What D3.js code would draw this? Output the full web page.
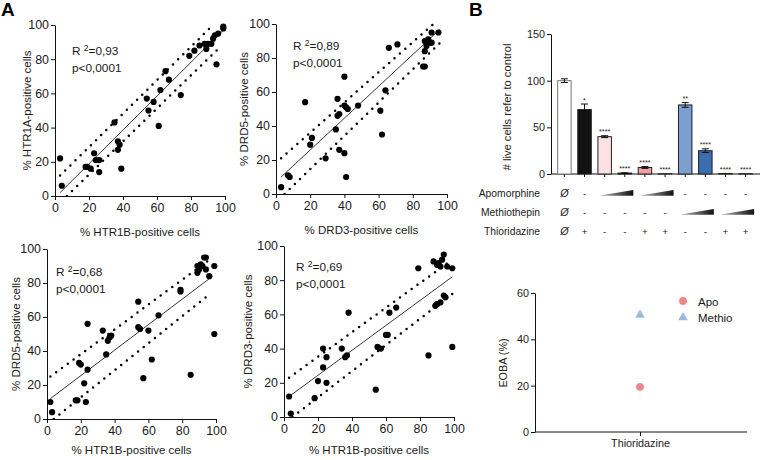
<!DOCTYPE html>
<html><head><meta charset="utf-8">
<script src="https://cdn.jsdelivr.net/npm/d3@7"></script>
<style>
body{margin:0;background:#fff}
svg{display:block;font-family:Arial,"Liberation Sans",Helvetica,sans-serif}
</style></head><body>
<svg id="c" width="760" height="460"></svg>
<script>
// ---------- DATA ----------
const axisTicks = [0, 20, 40, 60, 80, 100];

const htr1b_htr1a = [[3,22],[4,6],[18,17],[19,17],[21,16],[23,25],[24,21],[26,21],[26,14],[35,43],[37,32],[38,30],[37,27],[39,16],
  [54,57],[55,50],[58,55],[61,41],[62,62],[65,73],[67,68],[74,59],[79,82],[82,85],[85,88],[88,89],[90,89],[92,89],[89,86],
  [93,92],[94,94],[95,77],[96,95],[99,99],[99,98]];
const drd3_drd5 = [[3,4],[7,11],[8,10],[17,54],[20,29],[21,33],[29,21],[35,38],[36,56],[36,46],[37,47],[37,26],[40,24],[41,10],
  [40,69],[40,52],[41,51],[42,50],[48,52],[61,49],[62,35],[64,61],[66,86],[71,88],[86,75],[87,75],[87,84],[87,90],[88,87],
  [89,91],[90,89],[91,89],[91,95],[95,95]];
const htr1b_drd5 = [[2,10],[3,4],[17,11],[18,11],[19,33],[20,32],[22,21],[23,10],[24,56],[24,29],[33,52],[35,38],[36,46],[37,48],
  [38,49],[54,69],[54,54],[55,53],[57,24],[60,52],[62,35],[66,61],[79,76],[79,75],[85,26],[89,90],[89,86],[90,88],[91,91],
  [92,90],[93,95],[94,95],[94,88],[96,84],[99,90],[99,50]];
const htr1b_drd3 = [[3,12],[4,2],[18,11],[20,21],[23,29],[23,40],[25,35],[25,20],[34,40],[36,35],[37,36],[38,61],[54,16],[55,41],
  [57,40],[60,48],[61,48],[62,61],[66,64],[79,87],[85,36],[88,91],[90,89],[91,90],[92,88],[93,92],[94,95],[96,88],[99,87],
  [89,65],[90,66],[92,67],[94,71],[95,70],[99,41]];

// regression fits and 95% bands as [x,y] end points
const fit1 = [[3,2],[100,98]],  upper1 = [[3,12],[93,100]], lower1 = [[7,0],[98,88]];
const fit2 = [[3,10],[96,97]],  upper2 = [[3,21],[92,100]], lower2 = [[5,0],[98,91]];
const fit3 = [[2,12],[98,84]],  upper3 = [[2,25],[98,95]],  lower3 = [[4,0],[97,74]];
const fit4 = [[3,12],[99,82]],  upper4 = [[3,23],[99,92]],  lower4 = [[5,0],[99,72]];

const stats = [["0,93","p<0,0001"],["0,89","p<0,0001"],["0,68","p<0,0001"],["0,69","p<0,0001"]];

// Bar panel
const barIds    = ["ctrl","thio","apoLo","apoHi","apoLoThio","apoHiThio","metLo","metHi","metLoThio","metHiThio"];
const barValues = [100, 69, 40, 1, 7, 0.3, 74, 25, 0.6, 0.3];
const barErrors = [2, 6, 1, 0.3, 1, 0, 2.5, 2, 0, 0];
const barColors = ["#ffffff","#111111","#fde1e5","#e8818c","#f2a0a8","#f2a0a8","#7c9fd0","#3b6db0","#3b6db0","#3b6db0"];
const barStars  = ["","*","****","****","****","****","**","****","****","****"];
const barTicks  = [0, 50, 100, 150];
const rowApo    = ["Ø","-",null,null,null,null,"-","-","-","-"];
const rowMet    = ["Ø","-","-","-","-","-",null,null,null,null];
const rowThio   = ["Ø","+","-","-","+","+","-","-","+","+"];
const apoWedges = [[2,3],[4,5]];
const metWedges = [[6,7],[8,9]];

// EOBA panel
const eobaCats   = ["Thioridazine"];
const eobaSeries = ["Apo","Methio"];
const eobaValues = [19.5, 50.5];
const eobaColors = ["#f0868c","#9cb8e2"];
const eobaTicks  = [0, 20, 40, 60];

// ---------- DRAW ----------
const svg = d3.select("#c");
const FONT = 'Arial,"Liberation Sans",Helvetica,sans-serif';
const txt = "#1a1a1a";

function styleAxis(g, fs){
  g.attr("font-family", FONT).attr("font-size", fs);
  g.selectAll("path,line").attr("stroke", "#111").attr("stroke-width", 1);
  g.selectAll("text").attr("fill", txt);
}

const defs = svg.append("defs");

function scatter(id, pts, fit, up, lo, st, f){
  const x = d3.scaleLinear().domain([0,100]).range([f.x0, f.x1]);
  const y = d3.scaleLinear().domain([0,100]).range([f.y0, f.y1]);
  const g = svg.append("g");
  defs.append("clipPath").attr("id","clip"+id).append("rect")
    .attr("x", f.x0).attr("y", f.y1 - 3).attr("width", f.x1 - f.x0 + 3).attr("height", f.y0 - f.y1 + 3);

  const gx = g.append("g").attr("transform",`translate(0,${f.y0})`)
    .call(d3.axisBottom(x).tickValues(axisTicks).tickSize(4).tickSizeOuter(0).tickPadding(3));
  styleAxis(gx, 12.4);
  const gy = g.append("g").attr("transform",`translate(${f.x0},0)`)
    .call(d3.axisLeft(y).tickValues(axisTicks).tickSize(4).tickSizeOuter(0).tickPadding(2));
  styleAxis(gy, 12.4);

  const line = d3.line().x(d => x(d[0])).y(d => y(d[1]));
  const cg = g.append("g").attr("clip-path", `url(#clip${id})`);
  cg.append("path").attr("d", line(fit)).attr("stroke","#222").attr("stroke-width",0.9).attr("fill","none");
  [up, lo].forEach(b => cg.append("path").attr("d", line(b)).attr("fill","none")
    .attr("stroke","#000").attr("stroke-width",2.5).attr("stroke-linecap","round").attr("stroke-dasharray","0,7.2"));

  g.append("g").selectAll("circle").data(pts).join("circle")
    .attr("cx", d => x(d[0])).attr("cy", d => y(d[1])).attr("r", 3.1).attr("fill","#000");

  const t = g.append("text").attr("x", f.x0 + f.rx).attr("y", f.y1 + f.ry)
    .attr("font-size", 11.8).attr("fill", txt);
  t.append("tspan").text("R ");
  t.append("tspan").attr("dy", -4.5).attr("font-size", 8.5).text("2");
  t.append("tspan").attr("dy", 4.5).text("=" + st[0]);
  g.append("text").attr("x", f.x0 + f.rx).attr("y", f.y1 + f.ry + 17)
    .attr("font-size", 11.8).attr("fill", txt).text(st[1]);

  g.append("text").attr("x", (f.x0 + f.x1) / 2).attr("y", f.xt).attr("text-anchor","middle")
    .attr("font-size", 11.5).attr("fill", txt).text(f.xl);
  g.append("text").attr("transform", `translate(${f.yt},${(f.y0 + f.y1) / 2}) rotate(-90)`)
    .attr("text-anchor","middle").attr("font-size", 11.5).attr("fill", txt).text(f.yl);
}

scatter(1, htr1b_htr1a, fit1, upper1, lower1, stats[0],
  {x0:55, x1:225, y0:196, y1:25, rx:17, ry:30, xt:236, yt:31, xl:"% HTR1B-positive cells", yl:"% HTR1A-positive cells"});
scatter(2, drd3_drd5, fit2, upper2, lower2, stats[1],
  {x0:276, x1:447, y0:194, y1:24, rx:17, ry:26, xt:234, yt:248, xl:"% DRD3-positive cells", yl:"% DRD5-positive cells"});
scatter(3, htr1b_drd5, fit3, upper3, lower3, stats[2],
  {x0:47, x1:216, y0:419, y1:249, rx:9, ry:27, xt:454, yt:20, xl:"% HTR1B-positive cells", yl:"% DRD5-positive cells"});
scatter(4, htr1b_drd3, fit4, upper4, lower4, stats[3],
  {x0:284, x1:454, y0:417, y1:246, rx:12, ry:25, xt:454, yt:252, xl:"% HTR1B-positive cells", yl:"% DRD3-positive cells"});

// panel letters
svg.append("text").attr("x",1).attr("y",16).attr("font-size",19).attr("font-weight","bold").attr("fill","#000").text("A");
svg.append("text").attr("x",469).attr("y",16).attr("font-size",19).attr("font-weight","bold").attr("fill","#000").text("B");

// ---- Bar panel ----
{
  const bx = d3.scaleBand().domain(barIds).range([551, 759]).padding(0.33);
  const by = d3.scaleLinear().domain([0,150]).range([174, 34]);
  const g = svg.append("g");
  const gy = g.append("g").attr("transform","translate(551,0)")
    .call(d3.axisLeft(by).tickValues(barTicks).tickSize(4).tickSizeOuter(0).tickPadding(2));
  styleAxis(gy, 10.8);
  const gx = g.append("g").attr("transform","translate(0,174)")
    .call(d3.axisBottom(bx).tickFormat("").tickSize(3).tickSizeOuter(0));
  styleAxis(gx, 10);
  gx.select(".domain").attr("d","M551,0H760");

  const bars = barIds.map((id,i) => ({id, v:barValues[i], e:barErrors[i], c:barColors[i], s:barStars[i]}));
  g.selectAll("rect.bar").data(bars).join("rect").attr("class","bar")
    .attr("x", d => bx(d.id)).attr("width", bx.bandwidth())
    .attr("y", d => by(d.v)).attr("height", d => by(0) - by(d.v))
    .attr("fill", d => d.c).attr("stroke", (d,i) => i === 0 ? "#777" : "#222").attr("stroke-width",1);
  const eb = bars.filter(d => d.e > 0);
  const cx = d => bx(d.id) + bx.bandwidth()/2;
  g.selectAll("path.err").data(eb).join("path").attr("class","err")
    .attr("d", d => `M${cx(d)},${by(d.v+d.e)}V${by(d.v-d.e)}M${cx(d)-3.5},${by(d.v+d.e)}H${cx(d)+3.5}M${cx(d)-3.5},${by(d.v-d.e)}H${cx(d)+3.5}`)
    .attr("stroke","#111").attr("stroke-width",1).attr("fill","none");
  g.selectAll("text.star").data(bars).join("text").attr("class","star")
    .attr("x", cx).attr("y", d => by(d.v + d.e) - 1.5).attr("text-anchor","middle")
    .attr("font-size", 7.2).attr("fill", txt).text(d => d.s);

  g.append("text").attr("transform","translate(511,107) rotate(-90)").attr("text-anchor","middle")
    .attr("font-size",11.2).attr("fill",txt).text("# live cells refer to control");

  // treatment table
  const grad = defs.append("linearGradient").attr("id","wedge");
  grad.append("stop").attr("offset","0%").attr("stop-color","#bdbdbd");
  grad.append("stop").attr("offset","100%").attr("stop-color","#111");
  const rows = [["Apomorphine", rowApo, apoWedges, 193], ["Methiothepin", rowMet, metWedges, 212], ["Thioridazine", rowThio, [], 231]];
  rows.forEach(([name, row, wedges, yy]) => {
    g.append("text").attr("x",540).attr("y",yy+3.5).attr("text-anchor","end").attr("font-size",10.3).attr("fill",txt).text(name);
    row.forEach((s,i) => {
      if (s === null) return;
      g.append("text").attr("x", bx(barIds[i]) + bx.bandwidth()/2).attr("y", yy + 3.8).attr("text-anchor","middle")
        .attr("font-size", s === "Ø" ? 10.8 : 9.8).attr("font-style", s === "Ø" ? "italic" : null)
        .attr("fill",txt).text(s);
    });
    wedges.forEach(([a,b]) => {
      const xa = bx(barIds[a]) + bx.bandwidth()/2 - 6, xb = bx(barIds[b]) + bx.bandwidth()/2 + 8.5;
      g.append("path").attr("d", `M${xa},${yy+2.8}L${xb},${yy-3}L${xb},${yy+2.8}Z`).attr("fill","url(#wedge)");
    });
  });
}

// ---- EOBA panel ----
{
  const ex = d3.scalePoint().domain(eobaCats).range([535, 745]).padding(0.5);
  const ey = d3.scaleLinear().domain([0,60]).range([432, 293]);
  const g = svg.append("g");
  const gy = g.append("g").attr("transform","translate(535,0)")
    .call(d3.axisLeft(ey).tickValues(eobaTicks).tickSize(4).tickSizeOuter(0).tickPadding(2));
  styleAxis(gy, 10.8);
  const gx = g.append("g").attr("transform","translate(0,432)")
    .call(d3.axisBottom(ex).tickSize(4).tickSizeOuter(0).tickPadding(3));
  styleAxis(gx, 10.8);
  gx.select(".domain").attr("d","M535,0H747");

  const sym = [d3.symbolCircle, d3.symbolTriangle];
  const sizes = [48, 40];
  eobaSeries.forEach((s,i) => {
    g.append("path").attr("d", d3.symbol(sym[i], sizes[i])())
      .attr("transform", `translate(${ex("Thioridazine")},${ey(eobaValues[i])})`).attr("fill", eobaColors[i]);
    g.append("path").attr("d", d3.symbol(sym[i], sizes[i])())
      .attr("transform", `translate(683,${301 + i*16.5})`).attr("fill", eobaColors[i]);
    g.append("text").attr("x",698).attr("y",305.5 + i*16.5).attr("font-size",11.5).attr("fill",txt).text(s);
  });
  g.append("text").attr("transform","translate(507,363) rotate(-90)").attr("text-anchor","middle")
    .attr("font-size",10.8).attr("fill",txt).text("EOBA (%)");
}
</script>
</body></html>
